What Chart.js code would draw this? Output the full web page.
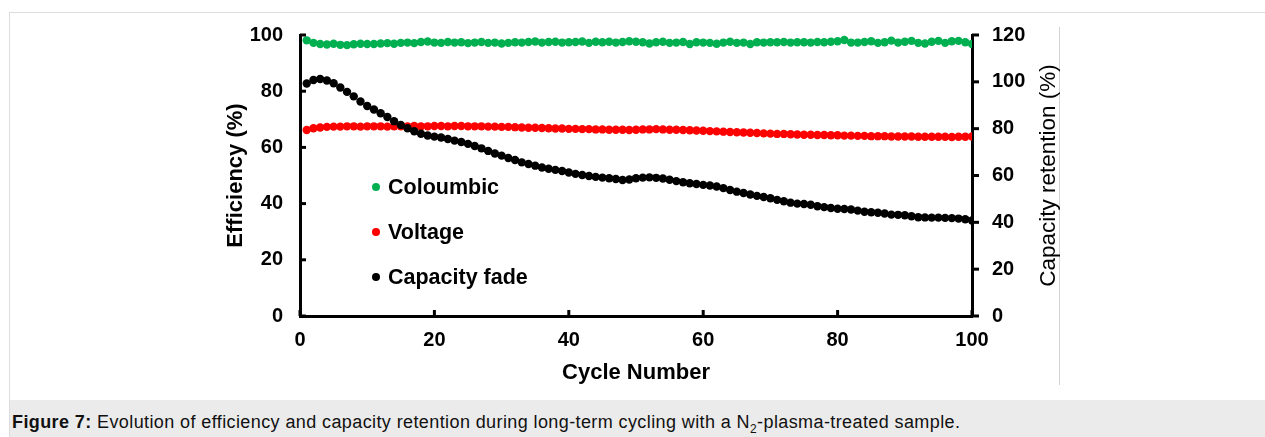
<!DOCTYPE html>
<html>
<head>
<meta charset="utf-8">
<script src="https://cdn.jsdelivr.net/npm/chart.js@4.4.1/dist/chart.umd.min.js"></script>
<style>
  html, body { margin: 0; padding: 0; background: #fff; }
  body { width: 1265px; height: 437px; position: relative; overflow: hidden; font-family: "Liberation Sans", Arial, sans-serif; }
  #frame { position: absolute; left: 9px; top: 12px; right: 0; bottom: 0; border-top: 1px solid #dddddd; border-left: 1px solid #dddddd; }
  #edge { position: absolute; left: 1059px; top: 27px; width: 1px; height: 358px; background: #d3d3d3; }
  #fig { position: absolute; left: 0; top: 0; z-index: 2; }
  #caption { position: absolute; left: 10px; top: 400px; right: 0; height: 37px; background: #ebebeb;
             font-size: 18px; letter-spacing: 0.4px; line-height: 20px; padding: 12px 0 0 2px; box-sizing: border-box; color: #111; white-space: nowrap; }
  #caption sub { font-size: 12px; line-height: 0; }
</style>
</head>
<body>
<div id="frame"></div>
<div id="edge"></div>
<canvas id="fig" width="1265" height="400"></canvas>
<div id="caption"><b>Figure 7:</b> Evolution of efficiency and capacity retention during long-term cycling with a N<sub>2</sub>-plasma-treated sample.</div>

<script>
// dados (ciclos 1..100)
const cycles = Array.from({ length: 100 }, (_, i) => i + 1);

const coulombic = [
  98.1, 97.2, 96.8, 96.6, 96.9, 96.5, 96.4, 96.7, 96.9, 96.8,
  96.8, 97.0, 97.1, 96.9, 97.2, 97.3, 97.1, 97.5, 97.7, 97.3,
  97.2, 97.5, 97.3, 97.4, 97.1, 97.3, 97.5, 97.2, 97.3, 97.0,
  97.2, 97.4, 97.3, 97.5, 97.7, 97.3, 97.5, 97.6, 97.3, 97.4,
  97.5, 97.7, 97.2, 97.6, 97.4, 97.6, 97.3, 97.5, 97.8, 97.6,
  97.4, 97.0, 97.4, 97.6, 97.2, 97.3, 97.5, 96.8, 97.4, 97.3,
  97.2, 96.9, 97.3, 97.6, 97.2, 97.3, 96.8, 97.4, 97.3, 97.4,
  97.4, 97.5, 97.3, 97.4, 97.4, 97.3, 97.5, 97.4, 97.6, 97.8,
  98.2, 97.3, 97.3, 97.5, 97.8, 97.2, 97.4, 98.0, 97.3, 97.6,
  97.9, 97.2, 97.0, 97.6, 97.9, 97.2, 97.8, 97.9, 97.4, 96.8
];

const voltage = [
  66.2, 66.8, 67.1, 67.3, 67.4, 67.4, 67.5, 67.5, 67.4, 67.5,
  67.5, 67.5, 67.4, 67.5, 67.5, 67.5, 67.6, 67.5, 67.5, 67.6,
  67.6, 67.5, 67.6, 67.6, 67.5, 67.5, 67.5, 67.4, 67.4, 67.3,
  67.3, 67.2, 67.1, 67.0, 67.0, 66.9, 66.8, 66.7, 66.7, 66.6,
  66.6, 66.5, 66.5, 66.4, 66.4, 66.3, 66.3, 66.3, 66.2, 66.3,
  66.4, 66.4, 66.5, 66.4, 66.3, 66.3, 66.2, 66.1, 66.0, 65.9,
  65.8, 65.7, 65.6, 65.5, 65.4, 65.3, 65.2, 65.1, 65.0, 64.9,
  64.8, 64.8, 64.7, 64.6, 64.5, 64.5, 64.4, 64.4, 64.3, 64.3,
  64.2, 64.2, 64.1, 64.1, 64.0, 64.0, 64.0, 63.9, 63.9, 63.9,
  63.9, 63.8, 63.8, 63.8, 63.8, 63.8, 63.7, 63.8, 63.8, 63.9
];

// retenção de capacidade (eixo direito, %)
const capacity = [
  99.3, 100.8, 101.2, 100.6, 99.4, 97.6, 95.7, 93.8, 91.6, 89.7,
  88.2, 86.6, 85.0, 83.2, 81.6, 80.2, 78.9, 77.8, 77.1, 76.6,
  76.2, 75.6, 74.9, 74.3, 73.5, 72.6, 71.6, 70.5, 69.4, 68.5,
  67.5, 66.6, 65.6, 64.9, 64.2, 63.4, 62.9, 62.4, 61.9, 61.3,
  60.7, 60.2, 59.8, 59.4, 59.1, 58.8, 58.5, 58.1, 58.3, 58.8,
  59.1, 59.2, 59.0, 58.7, 58.2, 57.6, 57.1, 56.7, 56.4, 56.0,
  55.7, 55.3, 54.6, 53.8, 53.1, 52.5, 51.9, 51.3, 50.8, 50.3,
  49.6, 49.0, 48.4, 48.0, 47.8, 47.5, 46.9, 46.5, 46.1, 45.8,
  45.7, 45.5, 45.0, 44.5, 44.3, 44.1, 43.8, 43.3, 43.2, 43.0,
  42.6, 42.2, 42.1, 42.0, 42.0, 41.9, 41.8, 41.6, 41.3, 40.8
];

const seriesNames = ['Coloumbic', 'Voltage', 'Capacity fade'];
const seriesColors = ['#00b050', '#ff0000', '#000000'];
const rightTitle = 'Capacity retention (%)';

const FONT = '"Liberation Sans", Arial, sans-serif';

const toPoints = vals => vals.map((v, i) => ({ x: cycles[i], y: v }));

// marcas dos eixos (para dentro na esquerda e embaixo, para fora na direita)
const axisTicks = {
  id: 'axisTicks',
  afterDraw(chart) {
    const { ctx, scales } = chart;
    ctx.save();
    ctx.strokeStyle = '#000';
    ctx.lineWidth = 3;
    const seg = (x1, y1, x2, y2) => { ctx.beginPath(); ctx.moveTo(x1, y1); ctx.lineTo(x2, y2); ctx.stroke(); };
    scales.x.ticks.forEach(t => {
      const px = scales.x.getPixelForValue(t.value);
      seg(px, scales.x.top, px, scales.x.top - 6);
    });
    scales.y.ticks.forEach(t => {
      const py = scales.y.getPixelForValue(t.value);
      seg(scales.y.right, py, scales.y.right + 6, py);
    });
    scales.y2.ticks.forEach(t => {
      const py = scales.y2.getPixelForValue(t.value);
      seg(scales.y2.left, py, scales.y2.left + 7, py);
    });

    // título do eixo direito, lido de baixo para cima como o da esquerda
    const ca = chart.chartArea;
    ctx.translate(scales.y2.right - 13, (ca.top + ca.bottom) / 2);
    ctx.rotate(-Math.PI / 2);
    ctx.font = '22.5px ' + FONT;
    ctx.fillStyle = '#000';
    ctx.textAlign = 'center';
    ctx.textBaseline = 'middle';
    ctx.fillText(rightTitle, 0, 0);
    ctx.restore();
  }
};

// legenda dentro da área do gráfico
const insideLegend = {
  id: 'insideLegend',
  afterDraw(chart) {
    const { ctx, chartArea } = chart;
    ctx.save();
    ctx.font = 'bold 21.5px ' + FONT;
    ctx.textBaseline = 'middle';
    seriesNames.forEach((name, i) => {
      const cy = chartArea.top + 152 + i * 45;
      const cx = chartArea.left + 76;
      ctx.fillStyle = seriesColors[i];
      ctx.beginPath();
      ctx.arc(cx, cy, 4, 0, Math.PI * 2);
      ctx.fill();
      ctx.fillStyle = '#000';
      ctx.fillText(name, cx + 12, cy + 1);
    });
    ctx.restore();
  }
};

const tickFont = { family: FONT, size: 20, weight: 'bold' };

new Chart(document.getElementById('fig').getContext('2d'), {
  type: 'scatter',
  data: {
    datasets: [
      { label: seriesNames[0], data: toPoints(coulombic), yAxisID: 'y', backgroundColor: seriesColors[0], order: 2 },
      { label: seriesNames[1], data: toPoints(voltage), yAxisID: 'y', backgroundColor: seriesColors[1], order: 1 },
      { label: seriesNames[2], data: toPoints(capacity), yAxisID: 'y2', backgroundColor: seriesColors[2], order: 0 }
    ]
  },
  options: {
    responsive: false,
    animation: false,
    devicePixelRatio: 1,
    layout: { padding: { left: 223, right: 203, top: 35, bottom: 14 } },
    elements: { point: { radius: 4.2, borderWidth: 0, hoverRadius: 4.2 } },
    plugins: { legend: { display: false }, tooltip: { enabled: false } },
    scales: {
      x: {
        type: 'linear', min: 0, max: 100,
        afterFit: s => { s.height = 70; },
        grid: { display: false, drawTicks: false },
        border: { display: true, color: '#000', width: 3 },
        ticks: { stepSize: 20, padding: 12, color: '#000', font: tickFont, maxRotation: 0 },
        title: { display: true, text: 'Cycle Number', color: '#000', font: { family: FONT, size: 22, weight: 'bold' }, padding: 0 }
      },
      y: {
        position: 'left', min: 0, max: 100,
        afterFit: s => { s.width = 77; },
        grid: { display: false, drawTicks: false },
        border: { display: true, color: '#000', width: 3 },
        ticks: { stepSize: 20, padding: 17, color: '#000', font: tickFont },
        title: { display: true, text: 'Efficiency (%)', color: '#000', font: { family: FONT, size: 22, weight: 'bold' }, padding: 0 }
      },
      y2: {
        position: 'right', min: 0, max: 120,
        afterFit: s => { s.width = 90; },
        grid: { display: false, drawTicks: false },
        border: { display: true, color: '#000', width: 3 },
        ticks: { stepSize: 20, padding: 20, color: '#000', font: tickFont }
      }
    }
  },
  plugins: [axisTicks, insideLegend]
});
</script>
</body>
</html>
